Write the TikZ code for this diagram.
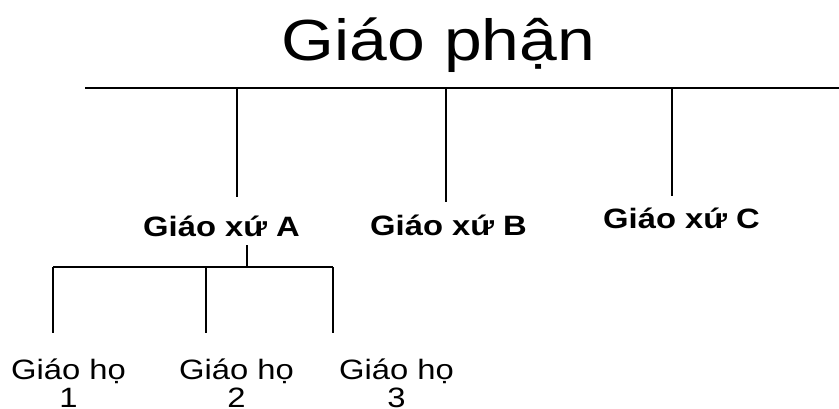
\documentclass[tikz,border=0pt]{standalone}
\usepackage{fontspec}
\setmainfont{Liberation Sans}[FakeStretch=1.17]
\begin{document}
\begin{tikzpicture}[x=1pt,y=-1pt,
  titlebox/.style={anchor=base,inner sep=0pt,font=\fontsize{58}{62}\selectfont},
  parishbox/.style={anchor=base,inner sep=0pt,font=\fontsize{28}{30}\selectfont\bfseries},
  stationbox/.style={anchor=base,inner sep=0pt,align=center,font=\fontsize{28}{28}\selectfont},
  bar/.style={line width=2.5pt},
  subbar/.style={line width=2pt},
  stem/.style={line width=1.5pt}]
\useasboundingbox (0,0) rectangle (839,408);
% texts
\node[titlebox] (title) at (438.5,60) {Giáo phận};
\node[parishbox] (pa) at (221.5,236) {Giáo xứ A};
\node[parishbox] (pb) at (448.5,235) {Giáo xứ B};
\node[parishbox] (pc) at (681.5,228) {Giáo xứ C};
\node[stationbox] (s1) at (68.5,407) {Giáo họ\\1};
\node[stationbox] (s2) at (236.5,407) {Giáo họ\\2};
\node[stationbox] (s3) at (396.5,407) {Giáo họ\\3};
% top bar
\coordinate (barL) at (85,88);
\coordinate (barR) at (839,88);
\coordinate (ja) at (237,88);
\coordinate (jb) at (446,88);
\coordinate (jc) at (672,88);
\coordinate (ea) at (237,197);
\coordinate (eb) at (446,202);
\coordinate (ec) at (672,196);
\draw[bar] (barL) -- (barR);
\draw[stem] (ja) -- (ea);
\draw[stem] (jb) -- (eb);
\draw[stem] (jc) -- (ec);
% sub bar under A
\coordinate (sa) at (247,245);
\coordinate (sj) at (247,267);
\coordinate (sL) at (53,267);
\coordinate (sM) at (206,267);
\coordinate (sR) at (333,267);
\coordinate (e1) at (53,333);
\coordinate (e2) at (206,333);
\coordinate (e3) at (333,333);
\draw[stem] (sa) -- (sj);
\draw[subbar] (sL) -- (sR);
\draw[stem] (sL) -- (e1);
\draw[stem] (sM) -- (e2);
\draw[stem] (sR) -- (e3);
\end{tikzpicture}
\end{document}
